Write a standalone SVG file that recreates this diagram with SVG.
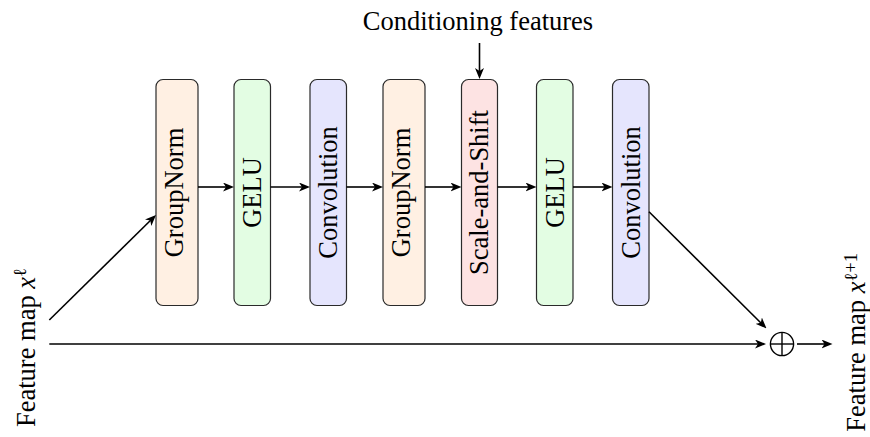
<svg xmlns="http://www.w3.org/2000/svg" width="870" height="437" viewBox="0 0 870 437">
  <style>
    text { font-family: "Liberation Serif", "Times New Roman", serif; font-size: 26.5px; fill: #000; }
    .box { stroke: #2a2a2a; stroke-width: 1.2; }
    .norm { fill: #fff0e3; }
    .act { fill: #e3fde3; }
    .conv { fill: #e5e5fd; }
    .mod { fill: #fde3e3; }
    .edge { stroke: #000; stroke-width: 1.6; fill: none; marker-end: url(#head); }
    .sup { font-size: 18.5px; }
  </style>
  <defs>
    <marker id="head" viewBox="0 0 11 9" markerWidth="11" markerHeight="9" refX="3.5" refY="4.5" orient="auto" markerUnits="userSpaceOnUse">
      <path d="M0,0 L11,4.5 L0,9 L3,4.5 z" fill="#000"/>
    </marker>
  </defs>

  <!-- input label -->
  <g id="input">
    <text transform="translate(34.5,427) rotate(-90)">Feature map <tspan font-style="italic">x</tspan><tspan class="sup" dy="-8.5">ℓ</tspan></text>
  </g>

  <!-- residual block stages -->
  <g id="groupnorm1">
    <rect class="box norm" x="156" y="79.5" width="42" height="226" rx="7"/>
    <text transform="translate(177,192.5) rotate(-90)" x="0" y="6.4" text-anchor="middle">GroupNorm</text>
  </g>
  <g id="gelu1">
    <rect class="box act" x="234" y="79.5" width="36.5" height="226" rx="7"/>
    <text transform="translate(252.25,192.5) rotate(-90)" x="0" y="8.75" text-anchor="middle">GELU</text>
  </g>
  <g id="conv1">
    <rect class="box conv" x="310" y="79.5" width="36.5" height="226" rx="7"/>
    <text transform="translate(328.25,192.5) rotate(-90)" x="0" y="8.75" text-anchor="middle">Convolution</text>
  </g>
  <g id="groupnorm2">
    <rect class="box norm" x="383" y="79.5" width="42" height="226" rx="7"/>
    <text transform="translate(404,192.5) rotate(-90)" x="0" y="6.4" text-anchor="middle">GroupNorm</text>
  </g>
  <g id="scaleshift">
    <rect class="box mod" x="461.5" y="79.5" width="36" height="226" rx="7"/>
    <text transform="translate(479.5,192.5) rotate(-90)" x="0" y="8.75" text-anchor="middle">Scale-and-Shift</text>
  </g>
  <g id="gelu2">
    <rect class="box act" x="536.5" y="79.5" width="36.5" height="226" rx="7"/>
    <text transform="translate(554.75,192.5) rotate(-90)" x="0" y="8.75" text-anchor="middle">GELU</text>
  </g>
  <g id="conv2">
    <rect class="box conv" x="612.5" y="79.5" width="36.5" height="226" rx="7"/>
    <text transform="translate(630.75,192.5) rotate(-90)" x="0" y="8.75" text-anchor="middle">Convolution</text>
  </g>

  <!-- conditioning input -->
  <g id="conditioning">
    <text x="478" y="30" text-anchor="middle">Conditioning features</text>
  </g>

  <!-- residual sum -->
  <g id="sum">
    <circle cx="782" cy="344" r="11.6" fill="none" stroke="#000" stroke-width="1.4"/>
    <line x1="770.4" y1="344" x2="793.6" y2="344" stroke="#000" stroke-width="1.4"/>
    <line x1="782" y1="332.4" x2="782" y2="355.6" stroke="#000" stroke-width="1.4"/>
  </g>

  <!-- output label -->
  <g id="output">
    <text transform="translate(865,431.7) rotate(-90)">Feature map <tspan font-style="italic">x</tspan><tspan class="sup" dy="-8.5">ℓ+1</tspan></text>
  </g>

  <!-- connectors -->
  <g id="connectors">
    <line class="edge" x1="49.3" y1="320" x2="150.65" y2="220.26"/>
    <line class="edge" x1="198" y1="187" x2="226.5" y2="187"/>
    <line class="edge" x1="270.5" y1="187" x2="302.5" y2="187"/>
    <line class="edge" x1="346.5" y1="187" x2="375.5" y2="187"/>
    <line class="edge" x1="425" y1="187" x2="454" y2="187"/>
    <line class="edge" x1="497.5" y1="187" x2="529" y2="187"/>
    <line class="edge" x1="573" y1="187" x2="605" y2="187"/>
    <line class="edge" x1="479.5" y1="43" x2="479.5" y2="71.5"/>
    <line class="edge" x1="649" y1="211.7" x2="761.2" y2="323.2"/>
    <line class="edge" x1="49.3" y1="344" x2="758.5" y2="344"/>
    <line class="edge" x1="797" y1="344" x2="825" y2="344"/>
  </g>
</svg>
